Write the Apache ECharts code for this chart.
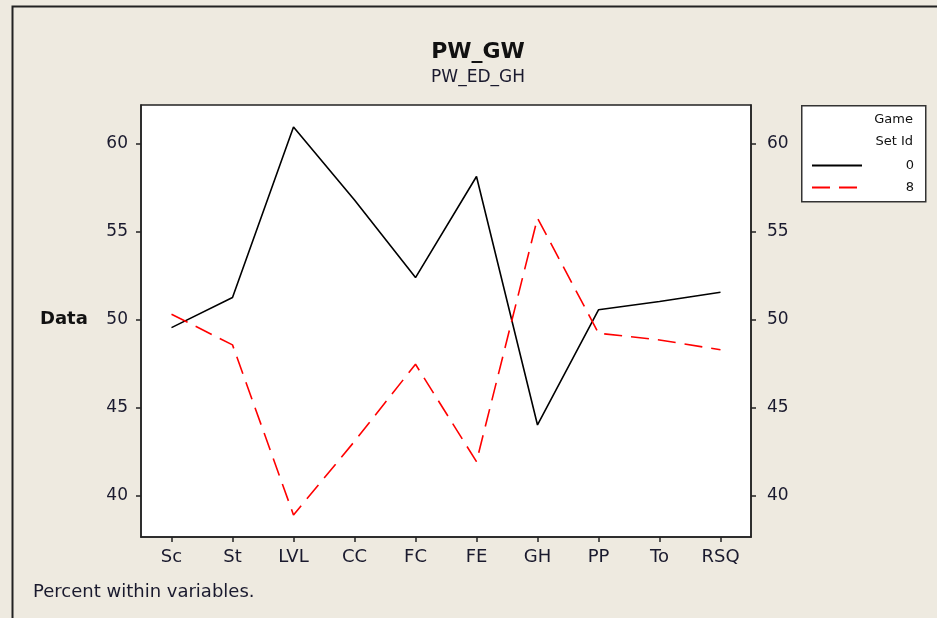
<!DOCTYPE html>
<html>
<head>
<meta charset="utf-8">
<script src="https://cdn.jsdelivr.net/npm/echarts@6/dist/echarts.min.js"></script>
<style>
html,body{margin:0;padding:0;background:#eeeae0;}
#chart{width:937px;height:618px;}
</style>
</head>
<body>
<div id="chart"></div>
<script>
const categories = ['Sc','St','LVL','CC','FC','FE','GH','PP','To','RSQ'];
const series0 = [49.56, 51.27, 60.95, 56.8, 52.4, 58.14, 44.03, 50.57, 51.04, 51.57];
const series8 = [50.32, 48.58, 38.92, 43.1, 47.48, 41.95, 55.78, 49.24, 48.86, 48.3];
const yTicks = [40, 45, 50, 55, 60];

const FONT = 'DejaVu Sans';
const TXT = '#1a1a2e';

const chart = echarts.init(document.getElementById('chart'));

function yAxis(pos, margin) {
  return {
    type: 'value', position: pos, min: 37.67, max: 62.2,
    axisLine: {show: true, lineStyle: {color: '#222', width: 1.5}},
    axisTick: {show: true, length: 5, lineStyle: {color: '#222', width: 1.5}, customValues: yTicks},
    axisLabel: {show: true, margin: margin, fontFamily: FONT, fontSize: 17, color: TXT, customValues: yTicks},
    splitLine: {show: false}
  };
}

chart.setOption({
  backgroundColor: '#eeeae0',
  animation: false,
  title: [
    {text: 'PW_GW', left: 473, top: 36, textAlign: 'center',
     textStyle: {fontFamily: FONT, fontWeight: 'bold', fontSize: 22, color: '#111'}},
    {text: 'PW_ED_GH', left: 473, top: 64, textAlign: 'center',
     textStyle: {fontFamily: FONT, fontWeight: 'normal', fontSize: 17, color: TXT}}
  ],
  grid: {left: 141, top: 105, right: 186, bottom: 81, show: true, backgroundColor: '#ffffff', borderColor: '#222', borderWidth: 1.5},
  xAxis: {
    type: 'category', data: categories, boundaryGap: true,
    axisLine: {show: true, lineStyle: {color: '#222', width: 1.5}},
    axisTick: {show: true, alignWithLabel: true, length: 5, lineStyle: {color: '#222', width: 1.5}},
    axisLabel: {margin: 11, fontFamily: FONT, fontSize: 18, color: TXT},
    splitLine: {show: false}
  },
  yAxis: [yAxis('left', 13), yAxis('right', 16)],
  legend: {
    orient: 'vertical', left: 806, top: 154, itemWidth: 50, itemHeight: 14, itemGap: 9,
    data: ['0', '8'],
    itemStyle: {opacity: 0},
    formatter: function (n) { return '{a|' + n + '}'; },
    textStyle: {rich: {a: {width: 47, align: 'right', fontFamily: FONT, fontSize: 13, color: '#111'}}}
  },
  graphic: [
    {type: 'rect', left: 10, top: 4, shape: {width: 1000, height: 700}, style: {fill: 'none', stroke: '#222', lineWidth: 2}, z: 100},
    {type: 'rect', left: 801, top: 105, shape: {width: 124, height: 96}, style: {fill: '#ffffff', stroke: '#333', lineWidth: 1.5}, z: -1},
    {type: 'text', right: 24, top: 113, style: {text: 'Game', fontFamily: FONT, fontSize: 13, fill: '#111'}},
    {type: 'text', right: 24, top: 135, style: {text: 'Set Id', fontFamily: FONT, fontSize: 13, fill: '#111'}},
    {type: 'text', left: 40, top: 310, style: {text: 'Data', fontFamily: FONT, fontSize: 18, fontWeight: 'bold', fill: '#111'}},
    {type: 'text', left: 33, top: 583, style: {text: 'Percent within variables.', fontFamily: FONT, fontSize: 18, fill: TXT}}
  ],
  series: [
    {name: '0', type: 'line', data: series0, yAxisIndex: 0, symbol: 'none',
     lineStyle: {color: '#000', width: 1.6}, itemStyle: {color: '#000'}},
    {name: '8', type: 'line', data: series8, yAxisIndex: 0, symbol: 'none',
     lineStyle: {color: '#ff0000', width: 1.6, type: [18, 9]}, itemStyle: {color: '#ff0000'}}
  ]
});
</script>
</body>
</html>
